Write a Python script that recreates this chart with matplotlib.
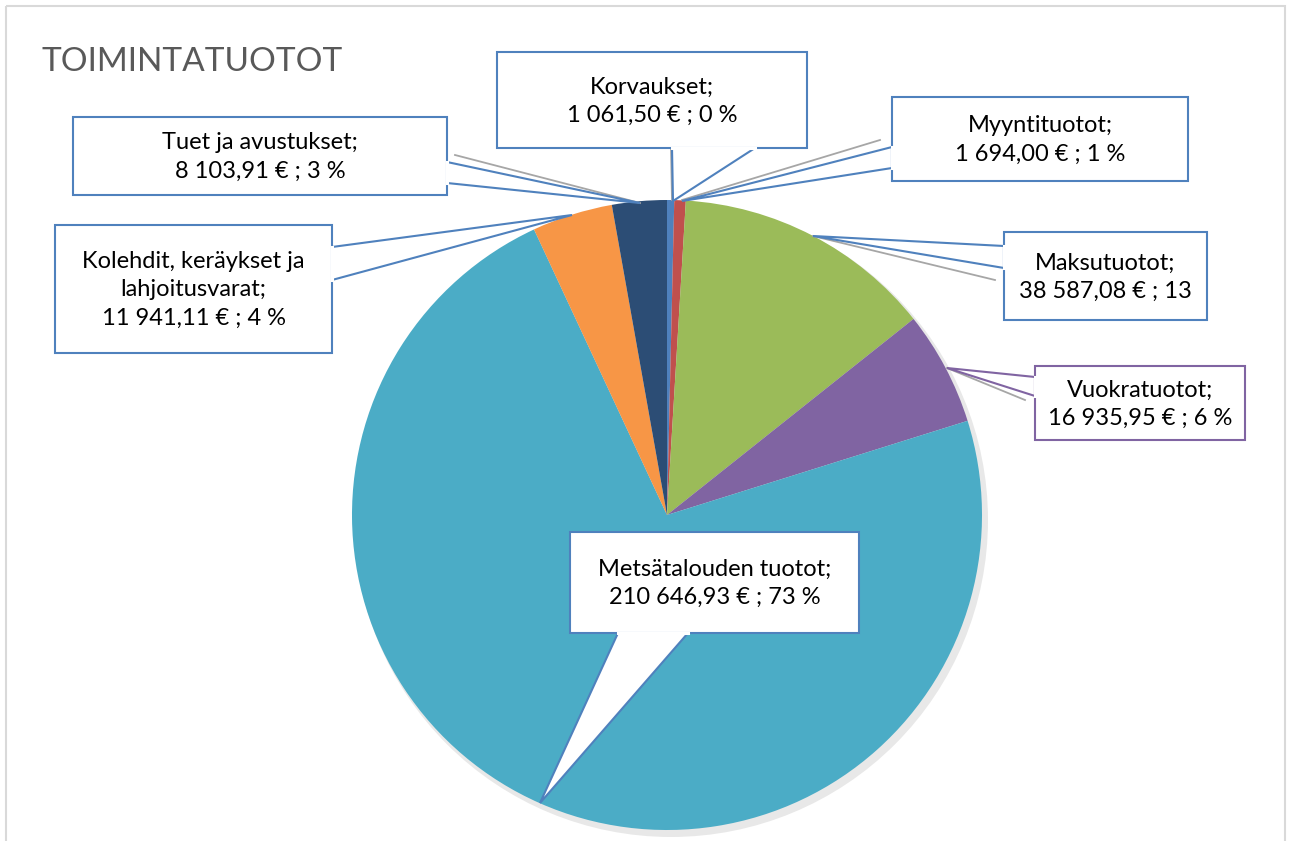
import matplotlib.pyplot as plt
from matplotlib.patches import Rectangle, Polygon, Circle

plt.rcParams['font.family'] = ['Lato', 'DejaVu Sans']

# data, in pie order (clockwise from 12 o'clock)
names = ["Korvaukset", "Myyntituotot", "Maksutuotot", "Vuokratuotot",
         "Metsätalouden tuotot", "Kolehdit, keräykset ja\nlahjoitusvarat", "Tuet ja avustukset"]
values = [1061.50, 1694.00, 38587.08, 16935.95, 210646.93, 11941.11, 8103.91]
colors = ["#4F81BD", "#C0504D", "#9BBB59", "#8064A2", "#4BACC6", "#F79646", "#2C4D75"]
labels = ["Korvaukset;\n1 061,50 € ; 0 %",
          "Myyntituotot;\n1 694,00 € ; 1 %",
          "Maksutuotot;\n38 587,08 € ; 13",
          "Vuokratuotot;\n16 935,95 € ; 6 %",
          "Metsätalouden tuotot;\n210 646,93 € ; 73 %",
          "Kolehdit, keräykset ja\nlahjoitusvarat;\n11 941,11 € ; 4 %",
          "Tuet ja avustukset;\n8 103,91 € ; 3 %"]

W, H = 1293, 841
fig = plt.figure(figsize=(W / 100, H / 100), dpi=100)
ax = fig.add_axes([0, 0, 1, 1])

# chart border
ax.add_patch(Rectangle((6, 6), 1279, 850, fill=False, ec="#D9D9D9", lw=1.5, zorder=0))

ax.text(42, 62, "TOIMINTATUOTOT", fontsize=24, color="#595959",
        va="center", ha="left")

# pie (y axis inverted -> counterclockwise in data is clockwise on screen)
cx, cy, r = 667, 515, 315
ax.add_patch(Circle((cx + 4, cy + 5), r + 2, color="#808080", alpha=0.18, lw=0, zorder=1))
wedges, _ = ax.pie(values, colors=colors, startangle=-90, counterclock=True,
                   center=(cx, cy), radius=r, wedgeprops=dict(lw=0))
for w in wedges:
    w.set_zorder(2)
ax.set_xlim(0, W)
ax.set_ylim(H, 0)
ax.set_aspect('equal')
ax.axis('off')

# callout boxes: (x0, y0, x1, y1), tail points, edge colour
boxes = [
    ((497, 52, 807, 148), [(672, 148), (673, 201), (755, 148)], "#4F81BD"),
    ((892, 97, 1188, 181), [(892, 147), (682, 201), (892, 168)], "#4F81BD"),
    ((1004, 232, 1207, 320), [(1004, 246), (813, 236), (1004, 268)], "#4F81BD"),
    ((1035, 366, 1245, 440), [(1035, 377), (947, 368), (1035, 396)], "#8064A2"),
    ((570, 532, 859, 633), [(618, 633), (540, 803), (688, 633)], "#4F81BD"),
    ((55, 225, 332, 353), [(332, 247), (572, 215), (332, 280)], "#4F81BD"),
    ((73, 117, 447, 195), [(447, 162), (640, 203), (447, 183)], "#4F81BD"),
]
grey_lines = [[(671, 148), (672, 200)], [(880, 140), (682, 200)], [(995, 280), (813, 236)],
              [(1025, 400), (947, 368)], [(455, 155), (640, 203)]]
for seg in grey_lines:
    ax.plot([p[0] for p in seg], [p[1] for p in seg], color="#A6A6A6", lw=1.3, zorder=3)

for (x0, y0, x1, y1), tail, ec in boxes:
    ax.add_patch(Polygon(tail, closed=True, fc="white", ec=ec, lw=1.5, zorder=4))
    ax.add_patch(Rectangle((x0, y0), x1 - x0, y1 - y0, fc="white", ec=ec, lw=1.5, zorder=4))
    # open the box edge where the tail joins it
    (ax_, ay_), (bx_, by_) = tail[0], tail[2]
    ax.plot([ax_, bx_], [ay_, by_], color="white", lw=2.2, zorder=5)

for ((x0, y0, x1, y1), _, _), lab in zip(boxes, labels):
    ax.text((x0 + x1) / 2, (y0 + y1) / 2 + 1, lab, ha="center", va="center",
            fontsize=17, color="black", linespacing=1.42, zorder=6)

fig.savefig("out.png", dpi=100)
